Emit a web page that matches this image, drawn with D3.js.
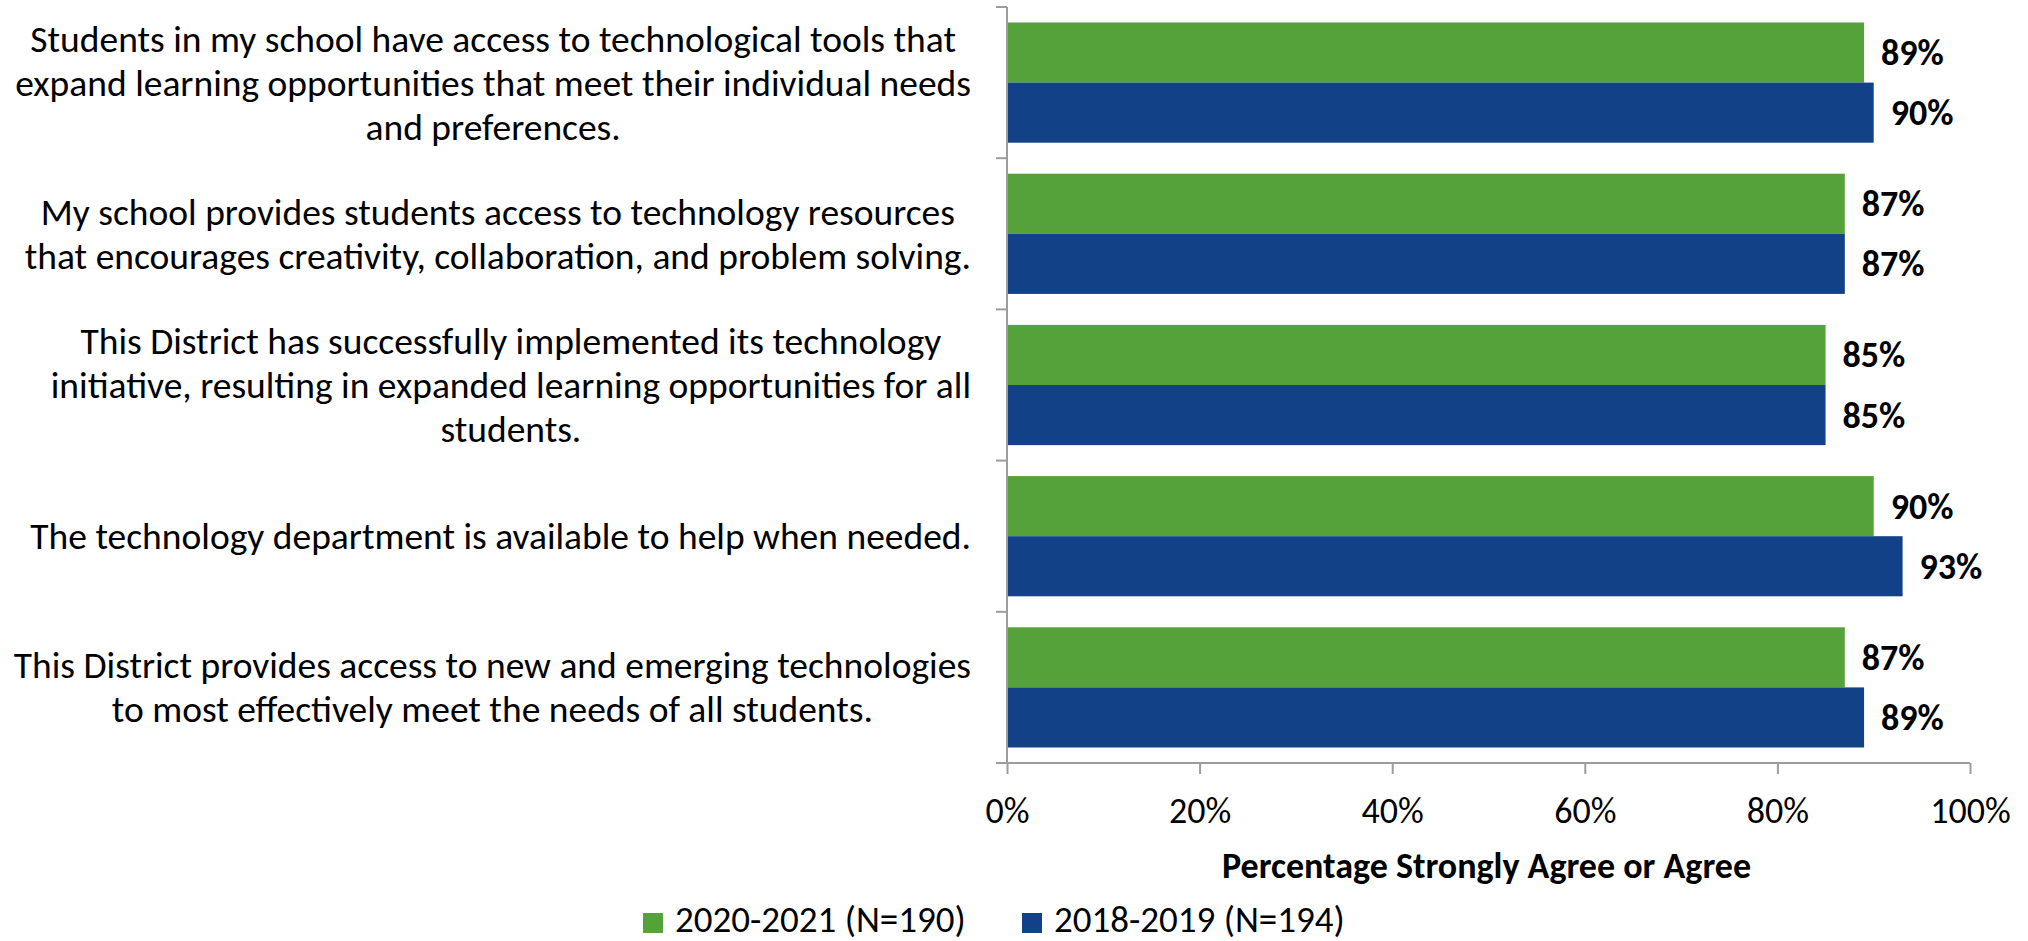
<!DOCTYPE html>
<html>
<head>
<meta charset="utf-8">
<script src="https://cdn.jsdelivr.net/npm/d3@7"></script>
<style>
  html, body { margin: 0; padding: 0; background: #fff; }
  svg { display: block; }
  text { font-family: Carlito, Calibri, Lato, "Open Sans", sans-serif; fill: #000; }
</style>
</head>
<body>
<svg id="chart" width="2028" height="941"></svg>
<script>
// ---- data ----
const categories = [
  ["Students in my school have access to technological tools that",
   "expand learning opportunities that meet their individual needs",
   "and preferences."],
  ["My school provides students access to technology resources",
   "that encourages creativity, collaboration, and problem solving."],
  ["This District has successfully implemented its technology",
   "initiative, resulting in expanded learning opportunities for all",
   "students."],
  ["The technology department is available to help when needed."],
  ["This District provides access to new and emerging technologies",
   "to most effectively meet the needs of all students."]
];
const seriesNames = ["2020-2021 (N=190)", "2018-2019 (N=194)"];
const values2020 = [89, 87, 85, 90, 87];
const values2018 = [90, 87, 85, 93, 89];
const xTicks = [0, 20, 40, 60, 80, 100];
const xTitle = "Percentage Strongly Agree or Agree";
const colors = ["#56A23A", "#124187"];

// ---- layout ----
const svg = d3.select("#chart");
const plotLeft = 1007, plotRight = 1970, plotTop = 7, plotBottom = 763;
const fontSize = 36;
const labelFontSize = 37.5;
const axisColor = "#9c9c9c";

const idx = d3.range(categories.length);
const y = d3.scaleBand().domain(idx).range([plotTop, plotBottom]).paddingInner(0.205).paddingOuter(0.1025);
const ySub = d3.scaleBand().domain([0, 1]).range([0, y.bandwidth()]);
const x = d3.scaleLinear().domain([0, 100]).range([plotLeft, plotRight]);

const series = [values2020, values2018];

// bars
series.forEach((vals, s) => {
  svg.append("g").selectAll("rect").data(vals).join("rect")
    .attr("x", x(0))
    .attr("y", (d, i) => y(i) + ySub(s))
    .attr("width", d => x(d) - x(0))
    .attr("height", ySub.bandwidth())
    .attr("fill", colors[s]);
  svg.append("g").selectAll("text").data(vals).join("text")
    .attr("x", d => x(d) + 17)
    .attr("y", (d, i) => y(i) + ySub(s) + ySub.bandwidth() / 2 + 12.5)
    .attr("font-size", fontSize)
    .attr("font-weight", "bold")
    .text(d => d + "%");
});

// y axis line + boundary ticks
const yAxisG = svg.append("g");
yAxisG.append("line")
  .attr("x1", plotLeft).attr("x2", plotLeft).attr("y1", plotTop).attr("y2", plotBottom)
  .attr("stroke", axisColor).attr("stroke-width", 2);
const step = y.step();
const boundaries = idx.map(i => y(i) - (step - y.bandwidth()) / 2).concat([plotBottom]);
yAxisG.selectAll("line.tick").data(boundaries).join("line")
  .attr("class", "tick")
  .attr("x1", plotLeft - 11).attr("x2", plotLeft)
  .attr("y1", d => d).attr("y2", d => d)
  .attr("stroke", axisColor).attr("stroke-width", 2);

// x axis
const xAxis = d3.axisBottom(x).tickValues(xTicks).tickFormat(d => d + "%").tickSize(11).tickSizeOuter(0);
const xg = svg.append("g").attr("transform", `translate(0,${plotBottom})`).call(xAxis);
xg.select(".domain").remove();
xg.append("line").attr("x1", plotLeft - 11).attr("x2", plotRight).attr("y1", 0).attr("y2", 0)
  .attr("stroke", axisColor).attr("stroke-width", 2);
xg.selectAll(".tick line").attr("stroke", axisColor).attr("stroke-width", 2);
xg.attr("font-family", null).attr("font-size", null);
xg.selectAll(".tick text")
  .attr("font-size", fontSize)
  .attr("fill", "#000")
  .attr("dy", null)
  .attr("y", 60);

// x title
svg.append("text")
  .attr("x", (plotLeft + plotRight) / 2 - 2)
  .attr("y", 878)
  .attr("text-anchor", "middle")
  .attr("font-size", fontSize)
  .attr("font-weight", "bold")
  .text(xTitle);

// category labels: each block centered on its widest line, right edge at 971
const labelRight = 971;
const lineH = 44;
categories.forEach((lines, i) => {
  const g = svg.append("g");
  const texts = g.selectAll("text").data(lines).join("text")
    .attr("font-size", labelFontSize)
    .attr("text-anchor", "middle")
    .text(d => d);
  let maxW = 0;
  texts.each(function () { maxW = Math.max(maxW, this.getComputedTextLength()); });
  const cx = labelRight - maxW / 2;
  const cy = y(i) + y.bandwidth() / 2;
  const n = lines.length;
  texts.attr("x", cx).attr("y", (d, j) => cy + (j - (n - 1) / 2) * lineH + 13);
});

// legend
const legendItems = [
  { name: seriesNames[0], color: colors[0], x: 643 },
  { name: seriesNames[1], color: colors[1], x: 1022 }
];
const lg = svg.append("g");
legendItems.forEach(it => {
  lg.append("rect").attr("x", it.x).attr("y", 913).attr("width", 20).attr("height", 20).attr("fill", it.color);
  lg.append("text").attr("x", it.x + 32).attr("y", 932).attr("font-size", 37).text(it.name);
});
</script>
</body>
</html>
